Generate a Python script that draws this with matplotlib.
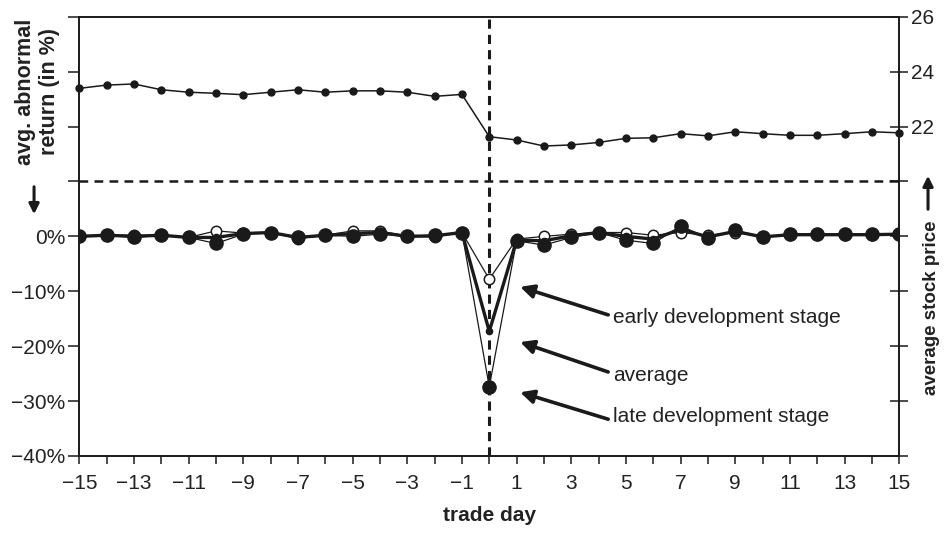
import matplotlib
matplotlib.use("Agg")
import matplotlib.pyplot as plt

plt.rcParams['font.family'] = ['Liberation Sans', 'DejaVu Sans']

days = list(range(-15, 16))
early = [0.0, 0.2, 0.2, 0.2, -0.2, 1.0, 0.6, 0.7, -0.4, 0.2, 1.0, 1.0, 0.0, -0.1, 0.7,
         -7.8, -0.5, 0.0, 0.4, 0.7, 0.7, 0.2, 0.7, 0.2, 0.7, -0.1, 0.2, 0.2, 0.2, 0.2, 0.4]
late = [0.0, 0.2, -0.2, 0.2, -0.2, -1.3, 0.4, 0.7, -0.1, 0.2, 0.0, 0.4, 0.0, 0.2, 0.7,
        -27.4, -0.8, -1.6, -0.2, 0.7, -0.7, -1.3, 1.9, -0.3, 1.1, -0.1, 0.4, 0.4, 0.4, 0.4, 0.4]
average = [0.0, 0.2, 0.0, 0.2, -0.2, -0.2, 0.5, 0.7, -0.2, 0.2, 0.5, 0.7, 0.0, 0.1, 0.7,
           -17.3, -0.7, -0.8, 0.1, 0.7, 0.0, -0.5, 1.3, -0.1, 0.9, -0.1, 0.3, 0.3, 0.3, 0.3, 0.4]
price = [23.39, 23.51, 23.55, 23.34, 23.25, 23.21, 23.16, 23.25, 23.34, 23.25, 23.30, 23.30,
         23.25, 23.10, 23.17, 21.63, 21.51, 21.29, 21.33, 21.42, 21.57, 21.59, 21.74, 21.66,
         21.81, 21.74, 21.68, 21.68, 21.74, 21.81, 21.77]

ret_ticks = [-40, -30, -20, -10, 0, 10, 20, 30, 40]
ret_labels = ['\u221240%', '\u221230%', '\u221220%', '\u221210%', '0%', '', '', '', '']
price_ticks = [10, 12, 14, 16, 18, 20, 22, 24, 26]
price_labels = ['', '', '', '', '', '', '22', '24', '26']
x_ticks = list(range(-15, 16))
x_labels = [('\u2212%d' % -d if d < 0 else str(d)) if d % 2 else '' for d in x_ticks]

col = '#1a1a1a'
tcol = '#222222'
fig = plt.figure(figsize=(9.46, 5.34), dpi=100)
ax = fig.add_axes([0.0838, 0.1461, 0.8668, 0.8226])
ax2 = ax.twinx()

ax.set_xlim(-15, 15)
ax.set_ylim(-40, 40)
ax2.set_ylim(10, 26)

# reference lines
ax.axvline(0, color=col, lw=2.2, ls=(0, (3, 2)), zorder=1)
ax.axhline(10, color=col, lw=1.8, ls=(0, (3.5, 2.5)), zorder=1)

ax.plot(days, early, color=col, lw=0.9, marker='o', ms=7.5, mfc='white', mec=col, mew=1.1, zorder=3)
ax.plot(days, late, color=col, lw=0.9, marker='o', ms=9.5, mfc=col, mec=col, zorder=4)
ax.plot(days, average, color=col, lw=2.4, marker='o', ms=4.5, mfc=col, mec=col, zorder=5)
ax2.plot(days, price, color=col, lw=1.1, marker='o', ms=5, mfc=col, mec=col, clip_on=False)

ax.set_xticks(x_ticks)
ax.set_xticklabels(x_labels)
ax.set_yticks(ret_ticks)
ax.set_yticklabels(ret_labels)
ax2.set_yticks(price_ticks)
ax2.set_yticklabels(price_labels)

for a in (ax, ax2):
    for s in a.spines.values():
        s.set_color(col)
        s.set_linewidth(1.2)
ax.tick_params(axis='x', direction='out', length=6, width=1.1, color=col, labelsize=15, pad=7, labelcolor=tcol)
ax.tick_params(axis='y', direction='out', length=8, width=1.1, color=col, labelsize=15, pad=2, labelcolor=tcol)
ax2.tick_params(axis='y', direction='inout', length=13, width=1.1, color=col, labelsize=15, pad=2, labelcolor=tcol)

ax.set_xlabel('trade day', fontsize=15, fontweight='bold', labelpad=9, color=tcol)

# axis labels with arrows
fig.text(0.040, 0.828, 'avg. abnormal\nreturn (in %)', rotation=90, ha='center', va='center',
         fontsize=15.5, fontweight='bold', linespacing=1.18, color=tcol)
fig.text(0.985, 0.423, 'average stock price', rotation=90, ha='center', va='center',
         fontsize=13.5, fontweight='bold', color=tcol)
fig.patches.append(matplotlib.patches.FancyArrowPatch((0.036, 1 - 184 / 534), (0.036, 1 - 217 / 534),
                   transform=fig.transFigure, arrowstyle='-|>', mutation_scale=15, lw=2.2, color=col))
fig.patches.append(matplotlib.patches.FancyArrowPatch((0.981, 1 - 212 / 534), (0.981, 1 - 173 / 534),
                   transform=fig.transFigure, arrowstyle='-|>', mutation_scale=15, lw=2.2, color=col))

# annotations
notes = [('early development stage', -9.2, -14.3, -14.8),
         ('average', -19.25, -24.7, -25.4),
         ('late development stage', -28.4, -33.3, -32.9)]
for label, tip_y, tail_y, text_y in notes:
    ax.annotate('', xy=(1.13, tip_y), xytext=(4.35, tail_y),
                arrowprops=dict(arrowstyle='-|>', lw=2.6, mutation_scale=20, color=col, shrinkA=0, shrinkB=0))
    ax.text(4.52, text_y, label, ha='left', va='center', fontsize=15, color=tcol)

ax.set_zorder(2)
ax.patch.set_visible(False)
ax2.set_zorder(1)

fig.savefig('out.png', dpi=100)
